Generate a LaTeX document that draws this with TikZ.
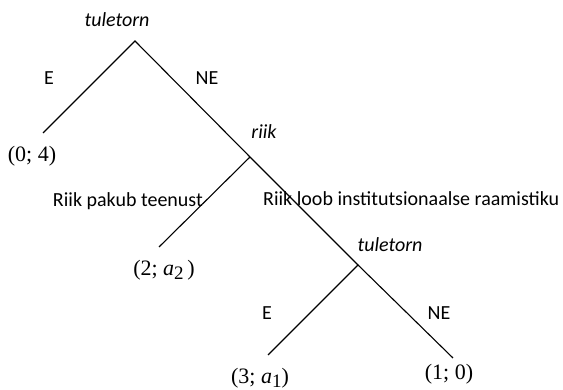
\documentclass[tikz,border=0pt]{standalone}
\usepackage{fontspec}
\setmainfont{Liberation Serif}
\newfontfamily\labelfont{Carlito}
\usepackage{tikz}

\newcommand{\subidx}[1]{\raisebox{-.4ex}{\fontsize{19}{19}\selectfont #1}}

\begin{document}
\begin{tikzpicture}[
    x=1pt, y=1pt,
    branch/.style={
        line width=1.1pt
    },
    move/.style={
        font=\labelfont\fontsize{20}{22}\selectfont,
        inner sep=0pt
    },
    player/.style={
        font=\labelfont\itshape\fontsize{20}{22}\selectfont,
        inner sep=0pt
    },
    payoff/.style={
        font=\fontsize{22}{24}\selectfont,
        inner sep=0pt
    }
]

\useasboundingbox (0,0) rectangle (563,390);

% decision points and leaves
\coordinate (root) at (135,349);
\coordinate (riik) at (250,233);
\coordinate (light) at (358,125);
\coordinate (leafa) at (43,257);
\coordinate (leafb) at (159,143);
\coordinate (leafc) at (268,35);
\coordinate (leafd) at (453,32);

% players
\node[player] (proot) at (117,370) {tuletorn};
\node[player] (priik) at (264,258) {riik};
\node[player] (plight) at (390,145) {tuletorn};

% moves
\node[move] (ea) at (49,312) {E};
\node[move] (nea) at (207,312) {NE};
\node[move, anchor=base east] (serv) at (203,183) {Riik pakub teenust};
\node[move, anchor=base west] (inst) at (263,184) {Riik loob institutsionaalse raamistiku};
\node[move] (eb) at (267,77) {E};
\node[move] (neb) at (439,77) {NE};

% payoffs
\node[payoff] (pa) at (32,234) {(0; 4)};
\node[payoff] (pb) at (164,120) {(2; \textit{a}\subidx{2}\,)};
\node[payoff] (pc) at (260,12) {(3; \textit{a}\subidx{1})};
\node[payoff] (pd) at (449,16) {(1; 0)};

\draw[branch] (leafa) -- (root) -- (riik);

\draw[branch] (riik) -- (leafb);

\draw[branch] (riik) -- (light);

\draw[branch] (leafc) -- (light) -- (leafd);

\end{tikzpicture}
\end{document}
